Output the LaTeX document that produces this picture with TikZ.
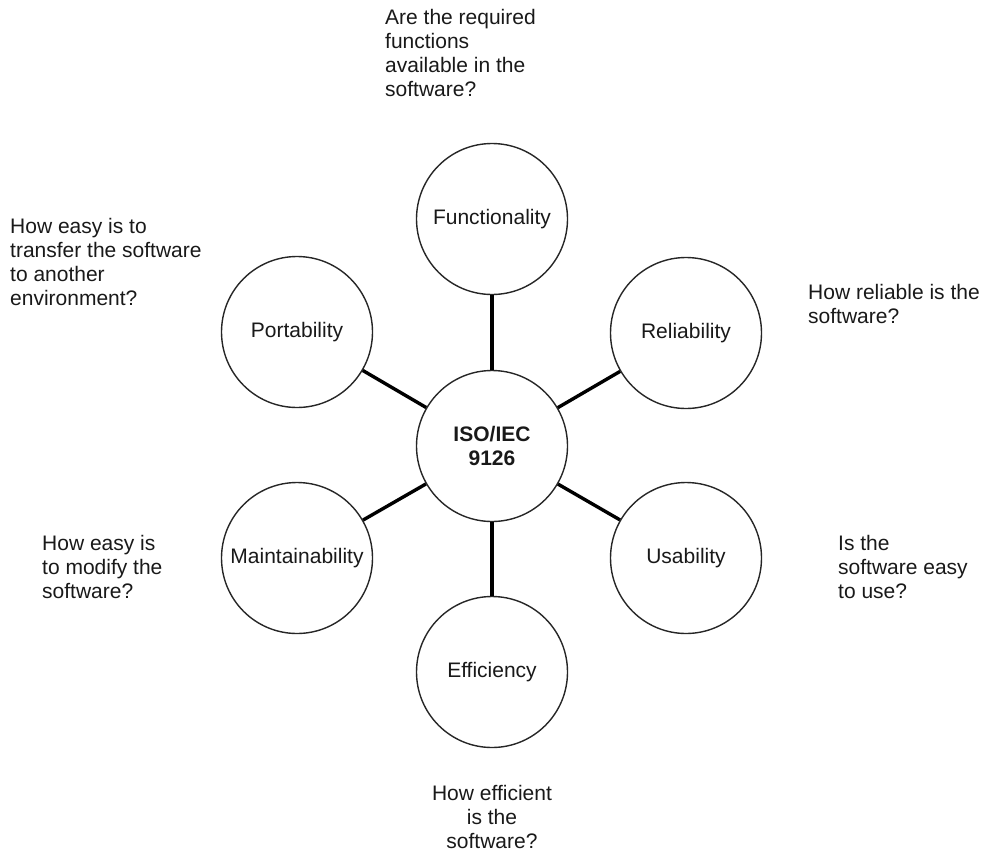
\documentclass[tikz,border=0pt]{standalone}
\usepackage{fontspec}
\setmainfont{Liberation Sans}
\begin{document}
\begin{tikzpicture}[x=1pt,y=-1pt,
  every node/.style={font=\fontsize{21}{24}\selectfont, text=black!90},
  qual/.style={circle, draw=black!85, line width=1.4pt, minimum size=151pt, inner sep=0pt, fill=white},
  link/.style={line width=3.4pt, black},
  note/.style={align=left, inner sep=0pt, anchor=north west}
]
\useasboundingbox (0,0) rectangle (985,854);
\node[qual, font=\fontsize{21}{24}\selectfont\bfseries, align=center] (c) at (492,446) {ISO/IEC\\9126};
\node[qual] (f) at (492,219) {Functionality};
\node[qual] (r) at (686,333) {Reliability};
\node[qual] (u) at (686,558) {Usability};
\node[qual] (e) at (492,672) {Efficiency};
\node[qual] (m) at (297,558) {Maintainability};
\node[qual] (p) at (297,332) {Portability};
\foreach \n in {f,r,u,e,m,p} \draw[link] (c) -- (\n);

\node[note] (tf) at (385,9) {Are the required\\functions\\available in the\\software?};
\node[note] (tp) at (10,218) {How easy is to\\transfer the software\\to another\\environment?};
\node[note] (tr) at (808,284) {How reliable is the\\software?};
\node[note] (tm) at (42,535) {How easy is\\to modify the\\software?};
\node[note] (tu) at (838,535) {Is the\\software easy\\to use?};
\node[align=center, inner sep=0pt, anchor=north] (te) at (492,785) {How efficient\\is the\\software?};
\end{tikzpicture}
\end{document}
